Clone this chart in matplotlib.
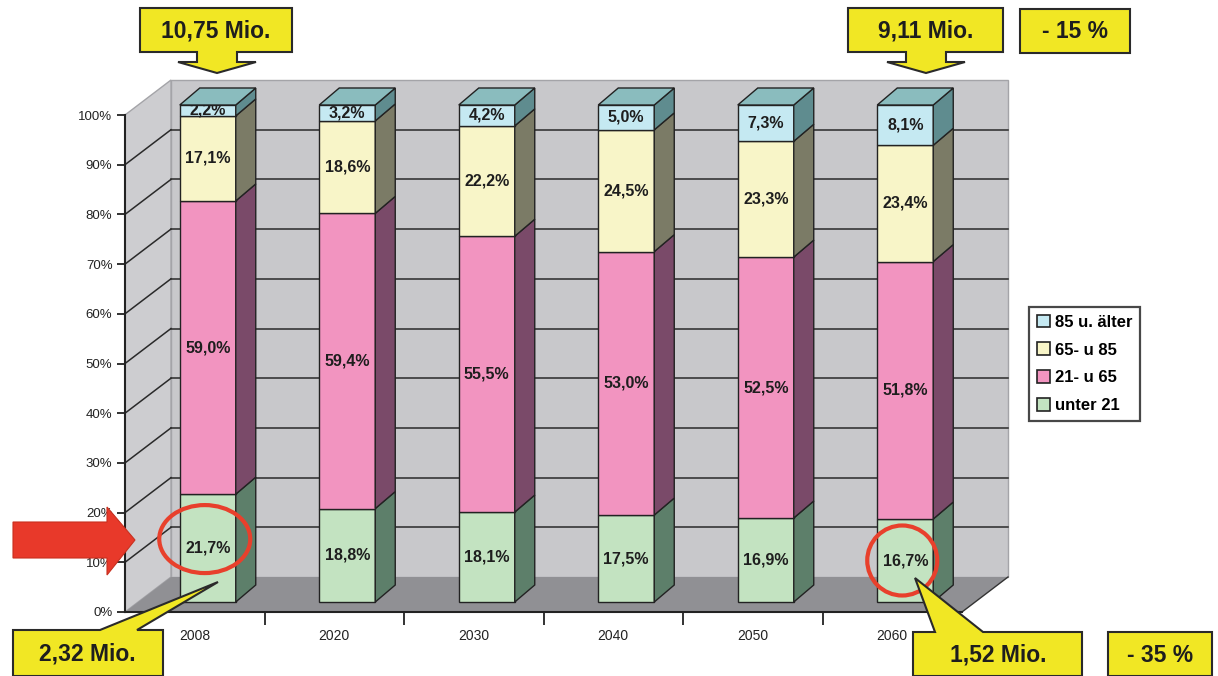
import matplotlib
matplotlib.use('Agg')
import matplotlib.pyplot as plt
from matplotlib.patches import Polygon, Ellipse, Patch
import numpy as np

plt.rcParams['font.family'] = ['Liberation Sans', 'DejaVu Sans']

# ---------------- data ----------------
years = ['2008', '2020', '2030', '2040', '2050', '2060']
unter_21 = [21.7, 18.8, 18.1, 17.5, 16.9, 16.7]
age_21_65 = [59.0, 59.4, 55.5, 53.0, 52.5, 51.8]
age_65_85 = [17.1, 18.6, 22.2, 24.5, 23.3, 23.4]
age_85_plus = [2.2, 3.2, 4.2, 5.0, 7.3, 8.1]
series_names = ['unter 21', '21- u 65', '65- u 85', '85 u. älter']
y_ticks = [0, 10, 20, 30, 40, 50, 60, 70, 80, 90, 100]
top_totals = ['10,75 Mio.', '9,11 Mio.']
top_change = '- 15 %'
bottom_totals = ['2,32 Mio.', '1,52 Mio.']
bottom_change = '- 35 %'

# ---------------- styles ----------------
front_cols = ['#c3e3c1', '#f294c0', '#f8f5c8', '#c5e9f2']
side_cols = ['#5d7f6a', '#7a4a69', '#7b7b66', '#5f8c8f']
top_col = '#8abcbe'
edge = '#222222'
yellow = '#f1e724'
red = '#e8402c'

W, H = 1218, 676
fig = plt.figure(figsize=(W / 100, H / 100), dpi=100)
ax_l, ax_r, ax_t, ax_b = 125, 962, 115, 612
ax = fig.add_axes([ax_l / W, 1 - ax_b / H, (ax_r - ax_l) / W, (ax_b - ax_t) / H])
ax.set_xlim(-0.5, 5.5)
ax.set_ylim(0, 100)
ax.patch.set_visible(False)

PX = (ax_r - ax_l) / 6.0
PY = (ax_b - ax_t) / 100.0
WDX, WDY = 46 / PX, 35 / PY      # wall depth
BSX, BSY = 13 / PX, 10 / PY      # bar shift into depth
BDX, BDY = 20 / PX, 17 / PY      # bar depth
HW = 28 / PX                     # bar half width

x0, x1 = -0.5, 5.5
# walls and floor
ax.add_patch(Polygon([(x0 + WDX, WDY), (x1 + WDX, WDY), (x1 + WDX, 100 + WDY), (x0 + WDX, 100 + WDY)],
                     closed=True, fc='#c8c8cb', ec='#a4a4a8', lw=1, zorder=0.5, clip_on=False))
ax.add_patch(Polygon([(x0, 0), (x0 + WDX, WDY), (x0 + WDX, 100 + WDY), (x0, 100)],
                     closed=True, fc='#cdcdd0', ec='#a4a4a8', lw=1, zorder=0.6, clip_on=False))
ax.add_patch(Polygon([(x0, 0), (x1, 0), (x1 + WDX, WDY), (x0 + WDX, WDY)],
                     closed=True, fc='#909094', ec='none', lw=0, zorder=0.7, clip_on=False))
ax.plot([x1, x1 + WDX], [0, WDY], color='#333333', lw=1, zorder=0.8, clip_on=False)
for t in y_ticks[1:-1]:
    ax.plot([x0 + WDX, x1 + WDX], [t + WDY, t + WDY], color='#2a2a2a', lw=1.1, zorder=0.9, clip_on=False)
    ax.plot([x0, x0 + WDX], [t, t + WDY], color='#2a2a2a', lw=1.1, zorder=0.9, clip_on=False)

# bars
series = [unter_21, age_21_65, age_65_85, age_85_plus]
xs = np.arange(len(years))
bottoms = np.zeros(len(years))
for k, vals in enumerate(series):
    vals = np.array(vals)
    ax.bar(xs + BSX, vals, width=2 * HW, bottom=bottoms + BSY, color=front_cols[k],
           edgecolor=edge, linewidth=1, zorder=3, clip_on=False)
    for i in range(len(years)):
        b = bottoms[i] + BSY
        t = b + vals[i]
        xr = xs[i] + BSX + HW
        ax.add_patch(Polygon([(xr, b), (xr + BDX, b + BDY), (xr + BDX, t + BDY), (xr, t)],
                             closed=True, fc=side_cols[k], ec=edge, lw=1, zorder=3, clip_on=False))
        lab = f'{vals[i]:.1f}%'.replace('.', ',')
        ax.text(xs[i] + BSX, b + vals[i] / 2, lab, ha='center', va='center', fontsize=11.5,
                fontweight='bold', color='#1e1e1e', zorder=4, clip_on=False)
    bottoms = bottoms + vals

# top faces
for i in range(len(years)):
    T = bottoms[i] + BSY
    xl = xs[i] + BSX - HW
    xr = xs[i] + BSX + HW
    ax.add_patch(Polygon([(xl, T), (xr, T), (xr + BDX, T + BDY), (xl + BDX, T + BDY)],
                         closed=True, fc=top_col, ec=edge, lw=1, zorder=5, clip_on=False))

# red circles around first and last "unter 21" labels
for i, (w, h), (ox, oy) in zip([0, 5], [(91, 68), (70, 70)], [(-3, 9), (-3, 0)]):
    ax.add_patch(Ellipse((xs[i] + BSX + ox / PX, BSY + unter_21[i] / 2 + oy / PY), w / PX, h / PY,
                         fill=False, ec=red, lw=3, zorder=6, clip_on=False))

# axes styling
for s in ['top', 'right']:
    ax.spines[s].set_visible(False)
ax.spines['left'].set_color(edge)
ax.spines['left'].set_linewidth(1.5)
ax.spines['bottom'].set_color(edge)
ax.spines['bottom'].set_linewidth(1.5)
ax.set_yticks(y_ticks)
ax.set_yticklabels([f'{t}%' for t in y_ticks])
ax.tick_params(axis='y', direction='out', length=6, width=1.3, pad=3, labelsize=9.5,
               colors='#222222')
ax.set_xticks(xs)
ax.set_xticklabels(years)
ax.tick_params(axis='x', which='major', length=0, pad=12, labelsize=10, colors='#222222')
ax.set_xticks(xs[:-1] + 0.5, minor=True)
ax.tick_params(axis='x', which='minor', direction='out', length=9, width=1.3, color='#222222')

# legend
handles = [Patch(fc=front_cols[k], ec=edge, lw=1.2) for k in [3, 2, 1, 0]]
labels = [series_names[k] for k in [3, 2, 1, 0]]
leg = ax.legend(handles, labels, loc='upper left', bbox_to_anchor=(1029 / W, 1 - 307 / H),
                bbox_transform=fig.transFigure, frameon=True, fancybox=False,
                borderaxespad=0, handlelength=0.8, handleheight=0.8, handletextpad=0.3,
                labelspacing=0.76, borderpad=0.45, prop={'weight': 'bold', 'size': 12})
leg.get_frame().set_edgecolor('#1a1a1a')
leg.get_frame().set_linewidth(1.6)

# overlay for callouts
ov = fig.add_axes([0, 0, 1, 1], zorder=2)
ov.set_xlim(0, W)
ov.set_ylim(H, 0)
ov.axis('off')
ov.patch.set_visible(False)

def down_callout(bx0, bx1, by0, by1, cx, text):
    pts = [(bx0, by0), (bx1, by0), (bx1, by1), (cx + 20, by1), (cx + 20, by1 + 10), (cx + 39, by1 + 10),
           (cx, by1 + 21), (cx - 39, by1 + 10), (cx - 20, by1 + 10), (cx - 20, by1), (bx0, by1)]
    ov.add_patch(Polygon(pts, closed=True, fc=yellow, ec='#2a2a2a', lw=1.5))
    ov.text((bx0 + bx1) / 2, (by0 + by1) / 2 + 1, text, ha='center', va='center', fontsize=16.5,
            fontweight='bold', color='#1e1e1e')

def box(bx0, bx1, by0, by1, text):
    ov.add_patch(Polygon([(bx0, by0), (bx1, by0), (bx1, by1), (bx0, by1)], closed=True,
                         fc=yellow, ec='#2a2a2a', lw=1.5))
    ov.text((bx0 + bx1) / 2, (by0 + by1) / 2 + 1, text, ha='center', va='center', fontsize=16.5,
            fontweight='bold', color='#1e1e1e')

def up_callout(bx0, bx1, by0, by1, wl, wr, tip, text, tx):
    pts = [(bx0, by0), (wl, by0), tip, (wr, by0), (bx1, by0), (bx1, by1), (bx0, by1)]
    ov.add_patch(Polygon(pts, closed=True, fc=yellow, ec='#2a2a2a', lw=1.5))
    ov.text(tx, (by0 + by1) / 2 + 1, text, ha='center', va='center', fontsize=16.5,
            fontweight='bold', color='#1e1e1e')

down_callout(140, 292, 8, 52, 217, top_totals[0])
down_callout(848, 1003, 8, 52, 926, top_totals[1])
box(1020, 1130, 9, 53, top_change)
up_callout(13, 163, 630, 676, 100, 137, (218, 582), bottom_totals[0], 87)
up_callout(913, 1082, 632, 676, 935, 983, (915, 578), bottom_totals[1], 998)
box(1108, 1212, 632, 676, bottom_change)

# red block arrow
ov.add_patch(Polygon([(13, 522), (107, 522), (107, 507), (135, 540), (107, 575), (107, 558), (13, 558)],
                     closed=True, fc='#e8392a', ec='#c8301f', lw=0.8))

fig.savefig('out.png', dpi=100)
